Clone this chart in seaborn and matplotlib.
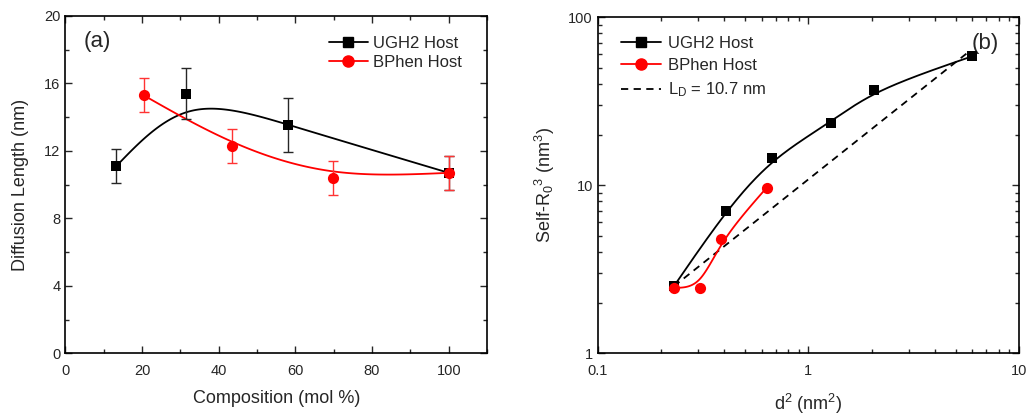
import numpy as np
import pandas as pd
import matplotlib
matplotlib.use("Agg")
import matplotlib.pyplot as plt
import seaborn as sns
from matplotlib.lines import Line2D
from matplotlib.ticker import MultipleLocator, LogLocator, NullFormatter, FuncFormatter

sns.set_style("ticks")
plt.rcParams['font.family'] = ['Liberation Sans', 'DejaVu Sans']
plt.rcParams['mathtext.default'] = 'regular'
plt.rcParams['xtick.direction'] = 'in'
plt.rcParams['ytick.direction'] = 'in'

# ---------- panel (a) data ----------
ugh2_comp = [13.3, 31.5, 58.0, 100.0]
ugh2_ld = [11.1, 15.4, 13.55, 10.7]
ugh2_err = [1.0, 1.5, 1.6, 1.0]

bphen_comp = [20.4, 43.6, 69.8, 100.0]
bphen_ld = [15.3, 12.3, 10.4, 10.7]
bphen_err = [1.0, 1.0, 1.0, 1.0]

# ---------- panel (b) data ----------
ugh2_d2 = [0.23, 0.406, 0.674, 1.276, 2.05, 6.0]
ugh2_r03 = [2.5, 7.05, 14.5, 23.6, 36.8, 58.5]

bphen_d2 = [0.23, 0.306, 0.386, 0.634]
bphen_r03 = [2.45, 2.45, 4.75, 9.65]

ld_d2 = [0.23, 5.85]
ld_r03 = [2.5, 63.0]

black = "#000000"
red = "#ff0000"


def bspline(x, y, log=False, n=40):
    # uniform cubic B-spline using the data points as control points
    # (end points reflected so the curve starts/ends on the first/last point)
    x = np.asarray(x, float)
    y = np.asarray(y, float)
    if log:
        x, y = np.log10(x), np.log10(y)
    P = np.column_stack([x, y])
    Q = np.vstack([2 * P[0] - P[1], P, 2 * P[-1] - P[-2]])
    t = np.linspace(0, 1, n)
    b0 = (1 - t) ** 3 / 6
    b1 = (3 * t**3 - 6 * t**2 + 4) / 6
    b2 = (-3 * t**3 + 3 * t**2 + 3 * t + 1) / 6
    b3 = t**3 / 6
    segs = []
    for i in range(len(Q) - 3):
        seg = (np.outer(b0, Q[i]) + np.outer(b1, Q[i + 1])
               + np.outer(b2, Q[i + 2]) + np.outer(b3, Q[i + 3]))
        segs.append(seg)
    C = np.vstack(segs)
    if log:
        C = 10 ** C
    return pd.DataFrame({"x": C[:, 0], "y": C[:, 1]})


fig = plt.figure(figsize=(10.26, 4.15), dpi=100)
ax1 = fig.add_axes([0.0637, 0.1487, 0.411, 0.8128])
ax2 = fig.add_axes([0.5825, 0.149, 0.4106, 0.8096])

# ---------------- (a) ----------------
cb = bspline(ugh2_comp, ugh2_ld)
cr = bspline(bphen_comp, bphen_ld)
sns.lineplot(data=cb, x="x", y="y", ax=ax1, color=black, lw=1.3, sort=False)
sns.lineplot(data=cr, x="x", y="y", ax=ax1, color=red, lw=1.3, sort=False)

ax1.errorbar(ugh2_comp, ugh2_ld, yerr=ugh2_err, fmt='none', ecolor=(0.15, 0.15, 0.15),
             elinewidth=1.0, capsize=3.5, capthick=1.0)
ax1.errorbar(bphen_comp, bphen_ld, yerr=bphen_err, fmt='none', ecolor=(1, 0.2, 0.2),
             elinewidth=1.0, capsize=3.5, capthick=1.0)
sns.scatterplot(x=ugh2_comp, y=ugh2_ld, ax=ax1, marker='s', s=55, color=black,
                edgecolor=black, linewidth=0, zorder=5)
sns.scatterplot(x=bphen_comp, y=bphen_ld, ax=ax1, marker='o', s=65, color=red,
                edgecolor=red, linewidth=0, zorder=6)

ax1.set_xlim(0, 110)
ax1.set_ylim(0, 20)
ax1.xaxis.set_major_locator(MultipleLocator(20))
ax1.xaxis.set_minor_locator(MultipleLocator(10))
ax1.yaxis.set_major_locator(MultipleLocator(4))
ax1.yaxis.set_minor_locator(MultipleLocator(2))
ax1.set_xlabel("Composition (mol %)", fontsize=13, labelpad=8)
ax1.set_ylabel("Diffusion Length (nm)", fontsize=13, labelpad=11)
ax1.text(0.075, 0.923, "(a)", transform=ax1.transAxes, fontsize=16,
         ha='center', va='center')

h1 = [Line2D([], [], color=black, marker='s', ms=7, lw=1.3),
      Line2D([], [], color=red, marker='o', ms=8, lw=1.3)]
ax1.legend(h1, ["UGH2 Host", "BPhen Host"], loc='upper right', frameon=False,
           fontsize=12, handlelength=2.3, handletextpad=0.3, labelspacing=0.25,
           bbox_to_anchor=(0.975, 0.985))

# ---------------- (b) ----------------
lb = bspline(ugh2_d2, ugh2_r03, log=True)
lr = bspline(bphen_d2, bphen_r03, log=True)
sns.lineplot(x=ld_d2, y=ld_r03, ax=ax2, color=black, lw=1.3, dashes=[(4, 3)], style=[0, 0],
             legend=False)
sns.lineplot(data=lb, x="x", y="y", ax=ax2, color=black, lw=1.3, sort=False)
sns.lineplot(data=lr, x="x", y="y", ax=ax2, color=red, lw=1.3, sort=False)
sns.scatterplot(x=ugh2_d2, y=ugh2_r03, ax=ax2, marker='s', s=55, color=black,
                edgecolor=black, linewidth=0, zorder=5)
sns.scatterplot(x=bphen_d2, y=bphen_r03, ax=ax2, marker='o', s=65, color=red,
                edgecolor=red, linewidth=0, zorder=6)

ax2.set_xscale('log')
ax2.set_yscale('log')
ax2.set_xlim(0.1, 10)
ax2.set_ylim(1, 100)
ax2.xaxis.set_major_formatter(FuncFormatter(lambda v, p: f"{v:g}"))
ax2.yaxis.set_major_formatter(FuncFormatter(lambda v, p: f"{v:g}"))
ax2.xaxis.set_minor_locator(LogLocator(base=10, subs=np.arange(2, 10)))
ax2.yaxis.set_minor_locator(LogLocator(base=10, subs=np.arange(2, 10)))
ax2.xaxis.set_minor_formatter(NullFormatter())
ax2.yaxis.set_minor_formatter(NullFormatter())
ax2.set_xlabel("d$^2$ (nm$^2$)", fontsize=13, labelpad=10)
ax2.set_ylabel("Self-R$_0$$^3$ (nm$^3$)", fontsize=13, labelpad=8)
ax2.text(0.919, 0.922, "(b)", transform=ax2.transAxes, fontsize=16,
         ha='center', va='center')

h2 = [Line2D([], [], color=black, marker='s', ms=7, lw=1.3),
      Line2D([], [], color=red, marker='o', ms=8, lw=1.3),
      Line2D([], [], color=black, lw=1.3, ls=(0, (4, 3)))]
ax2.legend(h2, ["UGH2 Host", "BPhen Host", "L$_D$ = 10.7 nm"], loc='upper left',
           frameon=False, fontsize=12, handlelength=2.4, handletextpad=0.4,
           labelspacing=0.45, bbox_to_anchor=(0.02, 0.99))

for ax in (ax1, ax2):
    ax.tick_params(which='both', top=True, right=True, labelsize=10.5, width=1.0)
    ax.tick_params(which='major', length=5)
    ax.tick_params(which='minor', length=3)
    ax.tick_params(axis='x', which='major', pad=8)
    for s in ax.spines.values():
        s.set_visible(True)
        s.set_linewidth(1.2)
        s.set_color(black)

fig.savefig("out.png", dpi=100)
